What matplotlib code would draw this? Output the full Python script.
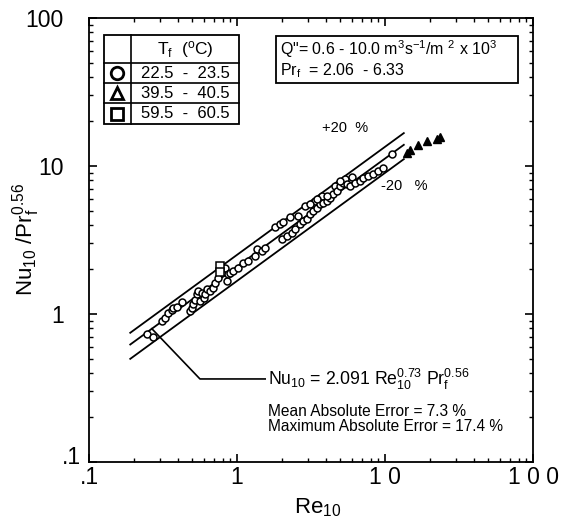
import numpy as np
import matplotlib
matplotlib.use("Agg")
import matplotlib.pyplot as plt
import matplotlib.transforms as mtrans
from matplotlib.patches import Rectangle

plt.rcParams['font.family'] = ['Liberation Sans', 'DejaVu Sans']
plt.rcParams['mathtext.fontset'] = 'custom'
plt.rcParams['mathtext.rm'] = 'Liberation Sans'
plt.rcParams['mathtext.it'] = 'Liberation Sans'

# data
re_circ = [0.247, 0.270, 0.311, 0.326, 0.342, 0.364, 0.370, 0.393, 0.425, 0.481,
           0.497, 0.505, 0.520, 0.537, 0.545, 0.562, 0.580, 0.598, 0.608, 0.627,
           0.657, 0.688, 0.710, 0.744, 0.792, 0.830, 0.856, 0.869, 0.897, 0.939,
           1.016, 1.10, 1.19, 1.32, 1.36, 1.48, 1.55, 1.81, 1.95, 2.05,
           2.28, 2.01, 2.18, 2.35, 2.47, 2.58, 2.67, 2.79, 2.88, 2.97,
           3.11, 3.26, 3.37, 3.47, 3.64, 3.75, 3.81, 4.06, 4.25, 4.45,
           4.59, 4.74, 4.97, 5.20, 5.37, 5.54, 5.80, 5.98, 6.27, 6.78,
           7.10, 7.68, 8.30, 8.97, 9.69, 11.1, 3.11, 3.47, 4.06, 4.97]
nu_circ = [0.733, 0.700, 0.897, 0.939, 1.016, 1.064, 1.098, 1.115, 1.205, 1.048,
           1.098, 1.169, 1.244, 1.365, 1.43, 1.22, 1.387, 1.28, 1.365, 1.475,
           1.43, 1.50, 1.62, 1.75, 2.05, 2.05, 1.67, 1.86, 1.89, 1.95,
           2.05, 2.21, 2.28, 2.47, 2.75, 2.67, 2.79, 3.90, 4.05, 4.17,
           4.50, 3.21, 3.37, 3.53, 3.75, 4.59, 4.06, 4.25, 5.37, 4.38,
           4.74, 4.97, 5.80, 5.20, 5.54, 6.27, 5.62, 5.80, 6.08, 6.47,
           7.33, 6.78, 7.33, 7.68, 8.17, 7.55, 7.33, 8.43, 7.68, 7.92,
           8.30, 8.56, 8.83, 9.25, 9.69, 12.05, 5.54, 5.98, 6.27, 7.92]
re_tri = [14.1, 14.8, 16.7, 19.2, 22.5, 23.5]
nu_tri = [12.2, 12.8, 13.9, 14.8, 15.2, 15.7]
re_sq = [0.768, 0.768]
nu_sq = [2.11, 1.92]

coef, n_re = 2.091, 0.73
band = 0.20
re_fit = np.array([0.19, 13.4])

x_ticks = [0.1, 1, 10, 100]
x_labels = ['.1', '1', '1 0', '1 0 0']
y_ticks = [0.1, 1, 10, 100]
y_labels = ['.1', '1', '10', '100']

fig = plt.figure(figsize=(5.61, 5.21), dpi=100)
ax = fig.add_axes([89/561, 59/521, 444/561, 444/521])
ax.set_xscale('log')
ax.set_yscale('log')
ax.set_xlim(0.1, 100)
ax.set_ylim(0.1, 100)

nu_fit = coef * re_fit ** n_re
for f in (1 + band, 1.0, 1 - band):
    ax.plot(re_fit, nu_fit * f, color='black', lw=1.3)

ax.plot(re_circ, nu_circ, 'o', ms=5, mfc='white', mec='black', mew=1.1)
ax.plot(re_sq, nu_sq, 's', ms=6, mfc='white', mec='black', mew=1.1)
ax.plot(re_tri, nu_tri, '^', ms=6, mfc='black', mec='black')

ax.set_xticks(x_ticks)
ax.set_xticklabels(x_labels)
ax.set_yticks(y_ticks)
ax.set_yticklabels(y_labels)
ax.tick_params(which='both', direction='in', top=True, right=True, labelsize=16.5)
ax.tick_params(which='major', length=6, width=1.2)
ax.tick_params(which='minor', length=3, width=1)
ax.tick_params(axis='x', pad=3)
ax.tick_params(axis='y', pad=18)
for s in ax.spines.values():
    s.set_linewidth(1.3)

# the ".1" on the y axis sits closer in and a bit higher
ax.get_yticklabels()[0].set_transform(
    ax.get_yticklabels()[0].get_transform()
    + mtrans.ScaledTranslation(17 / 100, 7 / 100, fig.dpi_scale_trans))

ax.set_xlabel('Re$_{10}$', fontsize=16)
ax.set_ylabel('Nu$_{10}$ /Pr$_f^{0.56}$', fontsize=16)
ax.xaxis.set_label_coords(0.516, -0.077)
ax.yaxis.set_label_coords(-0.106, 0.5)

# annotations
ax.text(5.4, 18, '+20  %', fontsize=10.5, ha='center', va='center')
ax.text(13.5, 7.3, '-20   %', fontsize=10.5, ha='center', va='center')
p0 = 0.266
ax.plot([p0, 0.562, 1.55], [coef * p0 ** n_re, 0.364, 0.364], color='black', lw=1.2)
ax.text(1.62, 0.364, 'Nu$_{10}$ = 2.091 Re$_{10}^{0.73}$ Pr$_f^{0.56}$',
        fontsize=12.7, va='center')
ax.text(1.62, 0.22, 'Mean Absolute Error = 7.3 %', fontsize=11.2, va='center')
ax.text(1.62, 0.175, 'Maximum Absolute Error = 17.4 %', fontsize=11.2, va='center')


def axx(px):
    return (px - 89) / 444


def axy(py):
    return 1 - (py - 18) / 444


# legend table
tl, tm, tr = axx(104), axx(131), axx(239)
rows = [35, 63, 83, 103, 124]
ax.add_patch(Rectangle((tl, axy(rows[-1])), tr - tl, axy(rows[0]) - axy(rows[-1]),
                       transform=ax.transAxes, fill=False, lw=1.3, zorder=5))
ax.plot([tm, tm], [axy(rows[0]), axy(rows[-1])], color='black', lw=1.2,
        transform=ax.transAxes)
for r in rows[1:-1]:
    ax.plot([tl, tr], [axy(r), axy(r)], color='black', lw=1.2, transform=ax.transAxes)
ax.text((tm + tr) / 2, axy(49), 'T$_f$  ($^o$C)', fontsize=12.5, ha='center', va='center',
        transform=ax.transAxes)
ranges = ['22.5  -  23.5', '39.5  -  40.5', '59.5  -  60.5']
marks = [('o', 'white'), ('^', 'white'), ('s', 'white')]
for i in range(3):
    yc = axy((rows[i + 1] + rows[i + 2]) / 2)
    ax.text((tm + tr) / 2, yc, ranges[i], fontsize=12, ha='center', va='center',
            transform=ax.transAxes)
    ax.plot([(tl + tm) / 2], [yc], marks[i][0], ms=9, mfc=marks[i][1], mec='black',
            mew=2, transform=ax.transAxes, clip_on=False)

# condition box
bl, br, bt, bb = axx(276), axx(518), axy(36), axy(83)
ax.add_patch(Rectangle((bl, bb), br - bl, bt - bb, transform=ax.transAxes,
                       fill=False, lw=1.3, zorder=5))
ax.text(bl + 0.01, axy(49), 'Q"= 0.6 - 10.0 m$^3$s$^{-1}$/m $^2$ x 10$^3$', fontsize=11.5,
        va='center', transform=ax.transAxes)
ax.text(bl + 0.01, axy(71), 'Pr$_f$  = 2.06  - 6.33', fontsize=11.5,
        va='center', transform=ax.transAxes)

fig.savefig('out.png', dpi=100)
